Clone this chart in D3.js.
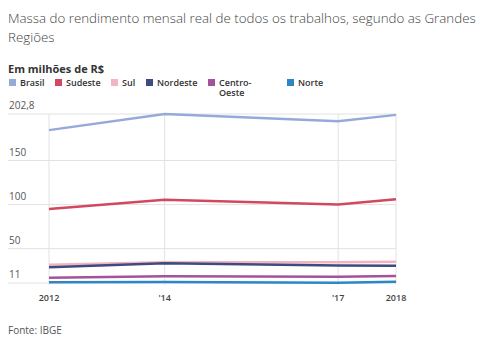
<!DOCTYPE html>
<html><head><meta charset="utf-8">
<script src="https://cdn.jsdelivr.net/npm/d3@7"></script>
<style>
body{margin:0;background:#fff;}
svg{display:block;font-family:"Open Sans",sans-serif;}
</style></head>
<body><svg id="c" width="483" height="346"></svg>
<script>
const years = [2012, 2014, 2017, 2018];
const xTickLabels = ["2012", "'14", "'17", "2018"];
const yTicks = [11, 50, 100, 150, 202.8];
const yTickLabels = ["11", "50", "100", "150", "202,8"];
const seriesNames = ["Brasil", "Sudeste", "Sul", "Nordeste", "Centro-Oeste", "Norte"];
const legendLabels = [["Brasil"], ["Sudeste"], ["Sul"], ["Nordeste"], ["Centro-", "Oeste"], ["Norte"]];
const colors = ["#95aad8", "#d2485f", "#f3b3c0", "#3e4b7e", "#a3529c", "#2f86c6"];
const brasil = [184.5, 202.8, 194.5, 201.8];
const sudeste = [95, 105.5, 100, 106];
const sul = [31.8, 34.5, 34.5, 35];
const nordeste = [28.8, 33.3, 31, 30.7];
const centroOeste = [17, 18.6, 18.2, 19];
const norte = [11.8, 12.1, 11.4, 12.5];
const allSeries = [brasil, sudeste, sul, nordeste, centroOeste, norte];

const svg = d3.select("#c");
const x = d3.scaleLinear().domain([2012, 2018]).range([49, 396]);
const y = d3.scaleLinear().domain([11, 202.8]).range([283, 114]);

// title (auto-fit first line to the reference width)
const t1 = svg.append("text").attr("x", 8).attr("y", 23).attr("font-size", 16).attr("font-weight", 300).attr("fill", "#444")
  .text("Massa do rendimento mensal real de todos os trabalhos, segundo as Grandes");
const w = t1.node().getComputedTextLength();
const fs = Math.min(16, 16 * 468 / w);
t1.attr("font-size", fs);
svg.append("text").attr("x", 8).attr("y", 42).attr("font-size", fs).attr("font-weight", 300).attr("fill", "#444")
  .text("Regiões");
svg.append("text").attr("x", 8).attr("y", 72.5).attr("font-size", 11).attr("font-weight", 700).attr("fill", "#333")
  .text("Em milhões de R$");

// legend
const legendX = [9, 55, 111, 146, 208, 287];
const lg = svg.append("g").selectAll("g").data(seriesNames).join("g")
  .attr("transform", (d, i) => `translate(${legendX[i]},79)`);
lg.append("rect").attr("width", 7).attr("height", 7).attr("fill", (d, i) => colors[i]);
lg.each(function(d, i) {
  const t = d3.select(this).append("text").attr("x", 11).attr("y", 6.5).attr("font-size", 9).attr("font-weight", 600).attr("fill", "#333");
  legendLabels[i].forEach((l, j) => t.append("tspan").attr("x", 11).attr("dy", j ? 10 : 0).text(l));
});

// grid
const g = svg.append("g");
g.selectAll("line.h").data(yTicks).join("line").attr("class", "h")
  .attr("x1", 8).attr("x2", x(2018)).attr("y1", d => y(d)).attr("y2", d => y(d))
  .attr("stroke", "#e2e2e2").attr("stroke-width", 1);
g.selectAll("line.v").data(years).join("line").attr("class", "v")
  .attr("x1", d => x(d)).attr("x2", d => x(d)).attr("y1", y(202.8)).attr("y2", y(11) + 2)
  .attr("stroke", "#e2e2e2").attr("stroke-width", 1);
g.selectAll("text.yl").data(yTicks).join("text").attr("class", "yl")
  .attr("x", 9).attr("y", d => y(d) - 5).attr("font-size", 10).attr("fill", "#555")
  .text((d, i) => yTickLabels[i]);
g.selectAll("text.xl").data(years).join("text").attr("class", "xl")
  .attr("x", d => x(d)).attr("y", 301).attr("text-anchor", "middle").attr("font-size", 9).attr("font-weight", 600).attr("fill", "#444")
  .text((d, i) => xTickLabels[i]);

// lines
const line = d3.line().x((d, i) => x(years[i])).y(d => y(d));
svg.append("g").selectAll("path").data(allSeries).join("path")
  .attr("d", line).attr("fill", "none").attr("stroke", (d, i) => colors[i]).attr("stroke-width", 2.5);

svg.append("text").attr("x", 8).attr("y", 334).attr("font-size", 10).attr("fill", "#555").text("Fonte: IBGE");
</script></body></html>
